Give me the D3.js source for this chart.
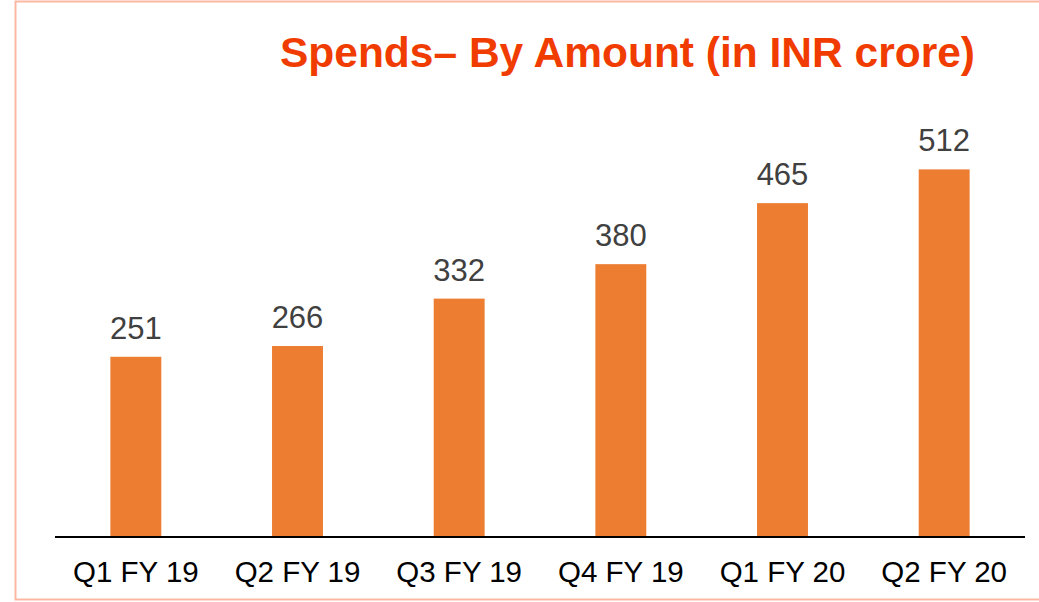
<!DOCTYPE html>
<html>
<head>
<meta charset="utf-8">
<script src="https://cdn.jsdelivr.net/npm/d3@7"></script>
<style>
  html, body { margin: 0; padding: 0; background: #fff; }
  svg { display: block; }
  text { font-family: "Liberation Sans", Arial, sans-serif; }
</style>
</head>
<body>
<svg id="chart" width="1039" height="602"></svg>
<script>
// Quarterly spends by amount (INR crore)
const categories = ["Q1 FY 19", "Q2 FY 19", "Q3 FY 19", "Q4 FY 19", "Q1 FY 20", "Q2 FY 20"];
const spends = [251, 266, 332, 380, 465, 512];
const titleText = "Spends\u2013 By Amount (in INR crore)";

const svg = d3.select("#chart");
const W = 1039, H = 602;
const baseY = 537, left = 55, right = 1025;

// Panel frame
svg.append("rect")
  .attr("x", 15.5).attr("y", 1.5)
  .attr("width", W + 10).attr("height", 598)
  .attr("fill", "none")
  .attr("stroke", "#FBB7A2")
  .attr("stroke-width", 2);

const x = d3.scaleBand()
  .domain(categories)
  .range([left, right])
  .paddingInner(0.685)
  .paddingOuter(0.3425);

const y = d3.scaleLinear()
  .domain([0, 600])
  .range([baseY, baseY - 0.718 * 600]);

// Bars
svg.append("g").selectAll("rect")
  .data(spends)
  .join("rect")
  .attr("x", (d, i) => x(categories[i]))
  .attr("y", d => y(d))
  .attr("width", x.bandwidth())
  .attr("height", d => baseY - y(d))
  .attr("fill", "#ED7D31");

// Value labels
svg.append("g").selectAll("text")
  .data(spends)
  .join("text")
  .attr("x", (d, i) => x(categories[i]) + x.bandwidth() / 2)
  .attr("y", d => y(d) - 18)
  .attr("text-anchor", "middle")
  .attr("font-size", 31)
  .attr("fill", "#404040")
  .text(d => d);

// Category axis
const axis = svg.append("g")
  .attr("transform", `translate(0,${baseY})`)
  .call(d3.axisBottom(x).tickSize(0).tickPadding(0));
axis.select(".domain")
  .attr("d", `M${left},0H${right}`)
  .attr("stroke", "#000")
  .attr("stroke-width", 2);
axis.selectAll(".tick text")
  .attr("y", 45)
  .attr("dy", null)
  .attr("font-size", 29.5)
  .attr("font-family", "'Liberation Sans', Arial, sans-serif")
  .attr("fill", "#000");

// Title
svg.append("text")
  .attr("x", 975)
  .attr("y", 67)
  .attr("text-anchor", "end")
  .attr("font-size", 42.5)
  .attr("font-weight", "bold")
  .attr("fill", "#F03C00")
  .text(titleText);
</script>
</body>
</html>
